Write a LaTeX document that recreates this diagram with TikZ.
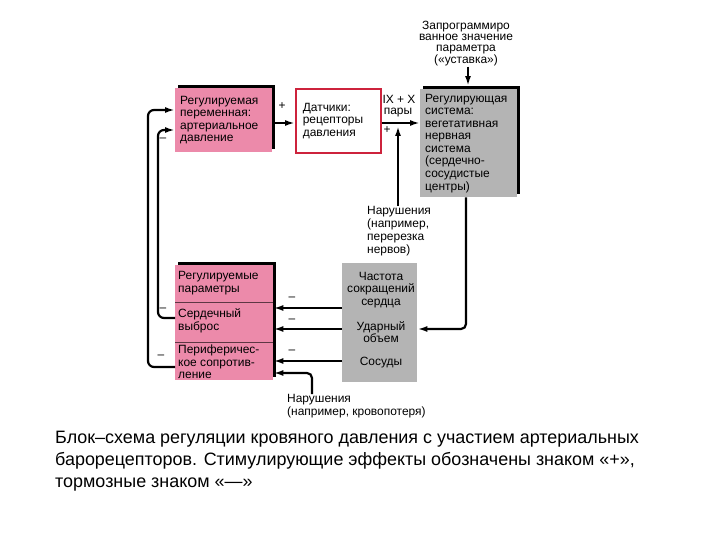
\documentclass[tikz,border=0pt]{standalone}
\usepackage{fontspec}
\setmainfont{Liberation Sans}
\usetikzlibrary{arrows.meta, positioning, shadows}
\definecolor{bppink}{RGB}{236,138,170}
\definecolor{bpgray}{RGB}{180,180,180}
\definecolor{bpred}{RGB}{205,35,60}
\tikzset{
    txt/.style={font=\fontsize{12}{12.6}\selectfont, inner sep=0pt},
    pinkbox/.style={txt, fill=bppink, general shadow={fill=black, shadow xshift=3bp, shadow yshift=3bp}, anchor=north west, inner xsep=5bp, align=left},
    graybox/.style={fill=bpgray, anchor=north west, inner sep=0pt},
    note/.style={font=\fontsize{12}{13}\selectfont, inner sep=0pt},
    sign/.style={font=\fontsize{12}{12}\selectfont, inner sep=0pt},
    arrow/.style={-{Latex[length=10pt,width=6pt]}, line width=2.2pt}
}

\begin{document}
\begin{tikzpicture}[x=1bp, y=-1bp]
    \useasboundingbox (0,0) rectangle (720,540);
    % upper row
    \node [pinkbox, text width=87bp, minimum height=64bp] (arterial) at (175,88) {Регулируемая\\переменная:\\артериальное\\давление};
    \node [txt, fill=white, draw=bpred, line width=1.6pt, anchor=north west, inner xsep=7bp, align=left, text width=71bp, minimum height=64bp] (sensors) at (295,88) {Датчики:\\рецепторы\\давления};
    \node [pinkbox, fill=bpgray, text width=87bp, minimum height=108bp] (controller) at (420,89) {Регулирующая\\система:\\вегетативная\\нервная\\система\\(сердечно-\\сосудистые\\центры)};
    \node [note, font=\fontsize{12}{11}\selectfont, align=center] (setpoint) at (466,44) {Запрограммиро\\ванное значение\\параметра\\(«уставка»)};
    \node [note, align=left, anchor=north west] (nerves) at (367,206) {Нарушения\\(например,\\перерезка\\нервов)};
    \coordinate (inject) at (398,126);

    % lower row
    \node [pinkbox, minimum width=98bp, minimum height=115bp] (params) at (175,265) {};
    \draw [bppink!40!black, thin] (params.west |- 0,302) -- (params.east |- 0,302);
    \draw [bppink!40!black, thin] (params.west |- 0,342) -- (params.east |- 0,342);
    \node [txt, align=left, anchor=west] (rowparams) at (178,283) {Регулируемые\\параметры};
    \node [txt, align=left, anchor=west] (rowco) at (178,321) {Сердечный\\выброс};
    \node [txt, align=left, anchor=west] (rowres) at (178,362) {Периферичес-\\кое сопротив-\\ление};
    \node [graybox, minimum width=75bp, minimum height=119bp] (effectors) at (342,263) {};
    \node [txt, align=center] (heartrate) at (381,290) {Частота\\сокращений\\сердца};
    \node [txt, align=center] (stroke) at (381,332) {Ударный\\объем};
    \node [txt, align=center] (vessels) at (381,363) {Сосуды};
    \node [note, align=left, anchor=north west] (bleeding) at (287,394) {Нарушения\\(например, кровопотеря)};

    % connectors
    \draw [arrow] (arterial.east |- 0,123) -- (sensors.west |- 0,123);
    \draw [arrow] (sensors.east |- 0,123) -- (controller.west |- 0,123);
    \draw [arrow] (nerves.north -| inject) -- (inject);
    \draw [arrow] (setpoint.south -| 468,0) -- (468,86);
    \draw [arrow, rounded corners=5] (controller.south -| 466,0) |- (effectors.east |- 0,329);
    \draw [arrow] (effectors.west |- 0,308) -- (params.east |- 0,308);
    \draw [arrow] (effectors.west |- 0,329) -- (params.east |- 0,329);
    \draw [arrow] (effectors.west |- 0,361) -- (params.east |- 0,361);
    \draw [arrow, rounded corners=5] (bleeding.north -| 312,0) |- (params.east |- 0,373);
    \draw [arrow, rounded corners=6] (params.west |- 0,367) -| (148,110) -- (arterial.west |- 0,110);
    \draw [arrow, rounded corners=6] (params.west |- 0,318) -| (158,130) -- (arterial.west |- 0,130);

    % signs
    \node [sign] (plusab) at (282,106) {+};
    \node [sign] (pairs) at (399,99) {IX + X};
    \node [sign] (pairs2) at (398,113) {пары};
    \node [sign] (plusbc) at (387,130) {+};
    \node [sign] (minushr) at (292,299) {–};
    \node [sign] (minussv) at (292,321) {–};
    \node [sign] (minusves) at (292,352) {–};
    \node [sign] (minusco) at (163,140) {–};
    \node [sign] (minusco2) at (163,310) {–};
    \node [sign] (minusres) at (161,357) {–};

    % caption
    \node [anchor=north west, align=left, inner sep=0pt, font=\fontsize{18}{22}\selectfont] (caption) at (55,431) {Блок–схема регуляции кровяного давления с участием артериальных\\барорецепторов. Стимулирующие эффекты обозначены знаком «+»,\\тормозные знаком «—»};
\end{tikzpicture}
\end{document}
